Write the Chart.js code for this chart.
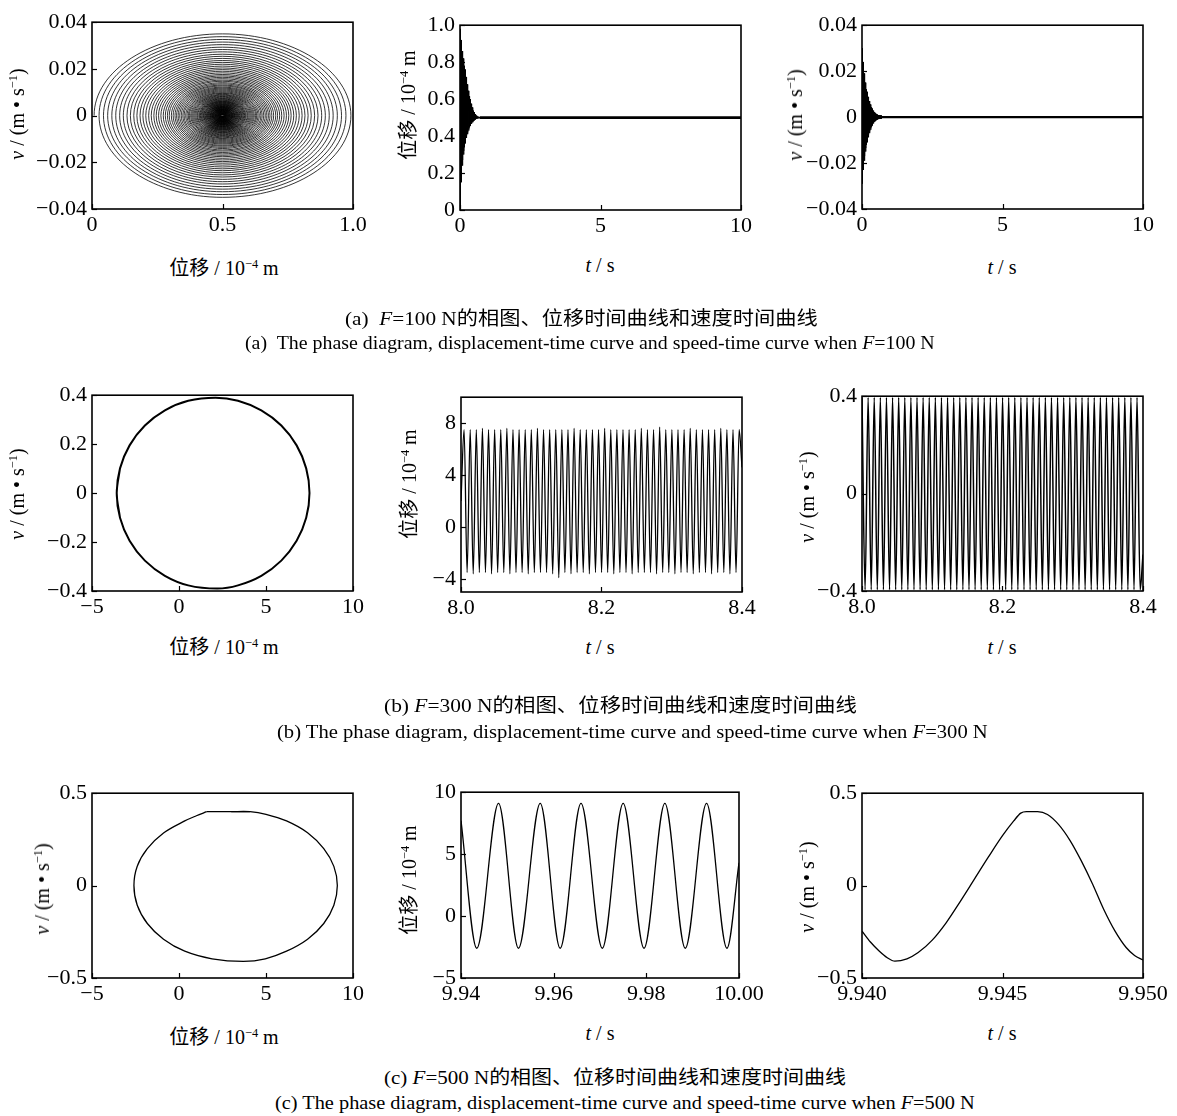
<!DOCTYPE html>
<html>
<head>
<meta charset="utf-8">
<script src="https://cdn.jsdelivr.net/npm/chart.js@4.4.0/dist/chart.umd.min.js"></script>
<style>
body{margin:0;background:#fff;width:1177px;height:1116px;position:relative;overflow:hidden;
  font-family:'Liberation Serif','Noto Sans CJK SC',serif;color:#000}
canvas{position:absolute}
.t{position:absolute;white-space:nowrap;font-size:20px;line-height:1;transform:translate(-50%,-50%);z-index:2}
.r{transform:translate(-50%,-50%) rotate(-90deg)}
.cap{position:absolute;white-space:nowrap;font-size:19px;line-height:1;transform-origin:0 50%;z-index:2}
sup{font-size:0.62em;vertical-align:0.55em;line-height:0}
</style>
</head>
<body>

<div class="t r" style="left:17px;top:114px"><i>v</i> / (m • s<sup>−1</sup>)</div>
<div class="t" style="left:224px;top:268px">位移 / 10<sup>−4</sup> m</div>
<div class="t r" style="left:408px;top:105px">位移 / 10<sup>−4</sup> m</div>
<div class="t" style="left:600px;top:265px"><i>t</i> / s</div>
<div class="t r" style="left:795px;top:115px"><i>v</i> / (m • s<sup>−1</sup>)</div>
<div class="t" style="left:1002px;top:267px"><i>t</i> / s</div>

<div class="t r" style="left:17px;top:494px"><i>v</i> / (m • s<sup>−1</sup>)</div>
<div class="t" style="left:224px;top:647px">位移 / 10<sup>−4</sup> m</div>
<div class="t r" style="left:409px;top:484px">位移 / 10<sup>−4</sup> m</div>
<div class="t" style="left:600px;top:647px"><i>t</i> / s</div>
<div class="t r" style="left:807px;top:497px"><i>v</i> / (m • s<sup>−1</sup>)</div>
<div class="t" style="left:1002px;top:647px"><i>t</i> / s</div>

<div class="t r" style="left:42px;top:889px"><i>v</i> / (m • s<sup>−1</sup>)</div>
<div class="t" style="left:224px;top:1037px">位移 / 10<sup>−4</sup> m</div>
<div class="t r" style="left:409px;top:880px">位移 / 10<sup>−4</sup> m</div>
<div class="t" style="left:600px;top:1033px"><i>t</i> / s</div>
<div class="t r" style="left:807px;top:887px"><i>v</i> / (m • s<sup>−1</sup>)</div>
<div class="t" style="left:1002px;top:1033px"><i>t</i> / s</div>

<div class="cap" data-w="473" style="left:345px;top:318px">(a)&nbsp; <i>F</i>=100 N的相图、位移时间曲线和速度时间曲线</div>
<div class="cap" data-w="690" style="left:245px;top:342px">(a)&nbsp; The phase diagram, displacement-time curve and speed-time curve when <i>F</i>=100 N</div>
<div class="cap" data-w="473" style="left:384px;top:705px">(b) <i>F</i>=300 N的相图、位移时间曲线和速度时间曲线</div>
<div class="cap" data-w="711" style="left:277px;top:731px">(b) The phase diagram, displacement-time curve and speed-time curve when <i>F</i>=300 N</div>
<div class="cap" data-w="462" style="left:384px;top:1077px">(c) <i>F</i>=500 N的相图、位移时间曲线和速度时间曲线</div>
<div class="cap" data-w="700" style="left:275px;top:1102px">(c) The phase diagram, displacement-time curve and speed-time curve when <i>F</i>=500 N</div>

<script>
// ---- (a) F=100 N ----
// phase spiral: x half-width and v half-height of each turn, centre at x=0.5
// (the first point only sets the direction at the start, its segment is not drawn)
var spiralStart = [0.5, -0.0355];
var spiralCx = 0.5;
var spiralAx = [0.492, 0.473, 0.456, 0.440, 0.424, 0.409, 0.394, 0.380, 0.366, 0.353,
  0.340, 0.328, 0.316, 0.305, 0.294, 0.283, 0.273, 0.263, 0.254, 0.245,
  0.236, 0.227, 0.219, 0.211, 0.204, 0.196, 0.189, 0.182, 0.176, 0.170,
  0.164, 0.158, 0.152, 0.147, 0.141, 0.136, 0.131, 0.127, 0.122, 0.118,
  0.114, 0.110, 0.106, 0.102, 0.098, 0.095, 0.091, 0.088, 0.085, 0.082,
  0.079, 0.076, 0.073, 0.071, 0.068, 0.066, 0.063, 0.061, 0.059, 0.057,
  0.055, 0.053, 0.051, 0.049, 0.047, 0.046, 0.044, 0.042, 0.041, 0.039,
  0.038, 0.037, 0.035, 0.034, 0.033, 0.032, 0.030, 0.029, 0.028, 0.027,
  0.026, 0.025, 0.024, 0.023, 0.022, 0.021, 0.020, 0.019, 0.018, 0.017,
  0.016, 0.015, 0.014, 0.013, 0.012, 0.011, 0.010, 0.009, 0.008, 0.007];
var spiralAv = [0.0350, 0.0338, 0.0326, 0.0315, 0.0304, 0.0293, 0.0283, 0.0273, 0.0263, 0.0254,
  0.0245, 0.0236, 0.0228, 0.0220, 0.0212, 0.0204, 0.0197, 0.0190, 0.0183, 0.0176,
  0.0170, 0.0164, 0.0158, 0.0152, 0.0147, 0.0141, 0.0136, 0.0131, 0.0127, 0.0122,
  0.0118, 0.0114, 0.0110, 0.0106, 0.0102, 0.0098, 0.0095, 0.0091, 0.0088, 0.0085,
  0.0082, 0.0079, 0.0076, 0.0073, 0.0071, 0.0068, 0.0066, 0.0063, 0.0061, 0.0059,
  0.0057, 0.0055, 0.0053, 0.0051, 0.0049, 0.0047, 0.0046, 0.0044, 0.0042, 0.0041,
  0.0039, 0.0038, 0.0037, 0.0035, 0.0034, 0.0033, 0.0032, 0.0030, 0.0029, 0.0028,
  0.0027, 0.0026, 0.0025, 0.0024, 0.0023, 0.0022, 0.0021, 0.0020, 0.0019, 0.0018,
  0.0017, 0.0016, 0.0015, 0.0014, 0.0013, 0.0012, 0.0011, 0.0010, 0.0009, 0.0008,
  0.0007, 0.0007, 0.0006, 0.0006, 0.0005, 0.0005, 0.0004, 0.0004, 0.0003, 0.0003];

// transient envelopes (upper / lower extremes) for the first 0.7 s
var envT = [0, 0.02, 0.04, 0.06, 0.08, 0.10, 0.12, 0.14, 0.16, 0.18,
  0.20, 0.22, 0.24, 0.26, 0.28, 0.30, 0.32, 0.34, 0.36, 0.38,
  0.40, 0.42, 0.44, 0.46, 0.48, 0.50, 0.52, 0.54, 0.56, 0.58,
  0.60, 0.62, 0.64, 0.66, 0.68, 0.70];
var dispHi = [0.98, 0.95, 0.92, 0.89, 0.86, 0.84, 0.82, 0.80, 0.78, 0.76,
  0.74, 0.72, 0.70, 0.68, 0.66, 0.645, 0.63, 0.615, 0.60, 0.59,
  0.575, 0.565, 0.555, 0.545, 0.537, 0.53, 0.524, 0.519, 0.515, 0.511,
  0.508, 0.506, 0.505, 0.504, 0.503, 0.503];
var dispLo = [0.00, 0.08, 0.15, 0.20, 0.24, 0.27, 0.30, 0.32, 0.34, 0.36,
  0.375, 0.39, 0.40, 0.41, 0.42, 0.43, 0.44, 0.448, 0.455, 0.46,
  0.466, 0.47, 0.474, 0.478, 0.481, 0.484, 0.487, 0.489, 0.491, 0.493,
  0.494, 0.495, 0.496, 0.497, 0.497, 0.497];
var velHi = [0.030, 0.027, 0.024, 0.021, 0.019, 0.017, 0.015, 0.0135, 0.012, 0.011,
  0.0098, 0.0088, 0.0078, 0.0070, 0.0062, 0.0055, 0.0048, 0.0042, 0.0037, 0.0032,
  0.0028, 0.0024, 0.0021, 0.0018, 0.0016, 0.0014, 0.0012, 0.0011, 0.0010, 0.0009,
  0.0008, 0.0008, 0.0007, 0.0007, 0.0007, 0.0007];
var velLo = [-0.029, -0.026, -0.023, -0.021, -0.019, -0.017, -0.015, -0.0135, -0.012, -0.011,
  -0.0098, -0.0088, -0.0078, -0.0070, -0.0062, -0.0055, -0.0048, -0.0042, -0.0037, -0.0032,
  -0.0028, -0.0024, -0.0021, -0.0018, -0.0016, -0.0014, -0.0012, -0.0011, -0.0010, -0.0009,
  -0.0008, -0.0008, -0.0007, -0.0007, -0.0007, -0.0007];
// steady part after the transient
var steadyT = [0.70, 10];
var dispSteady = [0.5, 0.5];
var velSteady = [0, 0];

// ---- (b) F=300 N ----
// closed orbit, read clockwise from the left (first and last points overlap)
var b1X = [-3.39, -3.58, -3.39, -2.84, -1.96, -0.81, 0.53, 2.10, 3.39, 4.73, 5.88, 6.76, 7.31, 7.50,
  7.31, 6.76, 5.88, 4.73, 3.39, 2.20, 0.53, -0.81, -1.96, -2.84, -3.39, -3.58, -3.39];
var b1V = [-0.101, 0, 0.101, 0.195, 0.276, 0.338, 0.377, 0.39, 0.377, 0.338, 0.276, 0.195, 0.101, 0,
  -0.101, -0.195, -0.276, -0.338, -0.377, -0.39, -0.377, -0.338, -0.276, -0.195, -0.101, 0, 0.101];
// extreme points of the 8.0-8.4 s window (half-period steps)
var bTimes = [8.0000, 8.0044, 8.0087, 8.0131, 8.0174, 8.0218, 8.0261, 8.0305, 8.0348, 8.0392,
  8.0435, 8.0479, 8.0522, 8.0566, 8.0609, 8.0653, 8.0696, 8.0740, 8.0783, 8.0827,
  8.0870, 8.0914, 8.0957, 8.1001, 8.1044, 8.1088, 8.1131, 8.1175, 8.1218, 8.1262,
  8.1305, 8.1349, 8.1392, 8.1436, 8.1479, 8.1523, 8.1566, 8.1610, 8.1653, 8.1697,
  8.1740, 8.1784, 8.1827, 8.1871, 8.1914, 8.1958, 8.2001, 8.2045, 8.2088, 8.2132,
  8.2175, 8.2219, 8.2262, 8.2306, 8.2349, 8.2393, 8.2436, 8.2480, 8.2523, 8.2567,
  8.2610, 8.2654, 8.2697, 8.2741, 8.2784, 8.2828, 8.2871, 8.2915, 8.2958, 8.3002,
  8.3045, 8.3089, 8.3132, 8.3176, 8.3219, 8.3263, 8.3306, 8.3350, 8.3393, 8.3437,
  8.3480, 8.3524, 8.3567, 8.3611, 8.3654, 8.3698, 8.3741, 8.3785, 8.3828, 8.3872,
  8.3915, 8.3959, 8.4000];
var b2Disp = [2.0, 7.5, -3.5, 7.5, -3.6, 7.5, -3.5, 7.6, -3.5, 7.5,
  -3.6, 7.5, -3.5, 7.5, -3.5, 7.6, -3.6, 7.5, -3.5, 7.5,
  -3.5, 7.5, -3.6, 7.5, -3.5, 7.6, -3.5, 7.5, -3.5, 7.5,
  -3.6, 7.5, -3.9, 7.5, -3.5, 7.5, -3.6, 7.6, -3.5, 7.5,
  -3.5, 7.5, -3.6, 7.5, -3.5, 7.5, -3.5, 7.6, -3.5, 7.5,
  -3.6, 7.5, -3.5, 7.5, -3.5, 7.5, -3.6, 7.5, -3.5, 7.6,
  -3.5, 7.5, -3.5, 7.5, -3.6, 7.7, -3.5, 7.5, -3.5, 7.5,
  -3.6, 7.5, -3.5, 7.5, -3.5, 7.6, -3.6, 7.5, -3.5, 7.5,
  -3.5, 7.5, -3.6, 7.5, -3.5, 7.6, -3.5, 7.5, -3.6, 7.5,
  -3.5, 7.5, 4.6];
var b3Vel = [0.395, -0.395, 0.395, -0.395, 0.395, -0.395, 0.395, -0.395, 0.395, -0.395,
  0.395, -0.395, 0.395, -0.395, 0.395, -0.395, 0.395, -0.395, 0.395, -0.395,
  0.395, -0.395, 0.395, -0.395, 0.395, -0.395, 0.395, -0.395, 0.395, -0.395,
  0.395, -0.395, 0.395, -0.395, 0.395, -0.395, 0.395, -0.395, 0.395, -0.395,
  0.395, -0.395, 0.395, -0.395, 0.395, -0.395, 0.395, -0.395, 0.395, -0.395,
  0.395, -0.395, 0.395, -0.395, 0.395, -0.395, 0.395, -0.395, 0.395, -0.395,
  0.395, -0.395, 0.395, -0.395, 0.395, -0.395, 0.395, -0.395, 0.395, -0.395,
  0.395, -0.395, 0.395, -0.395, 0.395, -0.395, 0.395, -0.395, 0.395, -0.395,
  0.395, -0.395, 0.395, -0.395, 0.395, -0.395, 0.395, -0.395, 0.395, -0.395,
  0.395, -0.395, -0.25];

// ---- (c) F=500 N ----
// orbit: curved part from the flat top round to the corner, plus the flat top
var c1X = [3.00, 4.08, 5.00, 6.18, 7.39, 8.32, 8.90, 9.10, 8.90, 8.32, 7.39, 6.18, 4.96, 3.70,
  1.90, 0.33, -0.89, -1.82, -2.40, -2.59, -2.40, -1.82, -0.89, 0.33, 1.00, 1.59];
var c1V = [0.40, 0.40, 0.386, 0.35, 0.286, 0.20, 0.104, 0, -0.106, -0.205, -0.29, -0.355, -0.396, -0.41,
  -0.396, -0.355, -0.29, -0.205, -0.106, 0, 0.105, 0.20, 0.285, 0.35, 0.378, 0.40];
var c1FlatX = [1.59, 4.08];
var c1FlatV = [0.40, 0.40];
var c2T = [9.9400, 9.9434, 9.9481, 9.9524, 9.9571, 9.9614, 9.9659, 9.9705,
  9.9750, 9.9795, 9.9840, 9.9884, 9.9930, 9.9974, 10.0000];
var c2Disp = [7.7, -2.6, 9.1, -2.6, 9.1, -2.6, 9.1, -2.6, 9.1, -2.6, 9.1, -2.6, 9.1, -2.6, 4.3];
var c3T = [9.94000, 9.94030, 9.94060, 9.94090, 9.94117, 9.94160, 9.94200, 9.94250, 9.94300,
  9.94350, 9.94400, 9.94450, 9.94500, 9.94540, 9.94565, 9.94585, 9.94625, 9.94660, 9.94700,
  9.94740, 9.94780, 9.94820, 9.94860, 9.94900, 9.94940, 9.94970, 9.95000];
var c3Vel = [-0.246, -0.305, -0.352, -0.390, -0.409, -0.396, -0.362, -0.295, -0.200,
  -0.085, 0.035, 0.155, 0.270, 0.350, 0.392, 0.400, 0.400, 0.385, 0.330,
  0.245, 0.135, 0.010, -0.128, -0.245, -0.335, -0.378, -0.402];

// ---- axis ticks ----
var ticksA1x = [0, 0.5, 1], labA1x = ['0', '0.5', '1.0'];
var ticksV04 = [-0.04, -0.02, 0, 0.02, 0.04], labV04 = ['−0.04', '−0.02', '0', '0.02', '0.04'];
var ticksT10 = [0, 5, 10], labT10 = ['0', '5', '10'];
var ticksA2y = [0, 0.2, 0.4, 0.6, 0.8, 1.0], labA2y = ['0', '0.2', '0.4', '0.6', '0.8', '1.0'];
var ticksX5 = [-5, 0, 5, 10], labX5 = ['−5', '0', '5', '10'];
var ticksB1y = [-0.4, -0.2, 0, 0.2, 0.4], labB1y = ['−0.4', '−0.2', '0', '0.2', '0.4'];
var ticksB2x = [8.0, 8.2, 8.4], labB2x = ['8.0', '8.2', '8.4'];
var ticksB2y = [-4, 0, 4, 8], labB2y = ['−4', '0', '4', '8'];
var ticksB3y = [-0.4, 0, 0.4], labB3y = ['−0.4', '0', '0.4'];
var ticksV05 = [-0.5, 0, 0.5], labV05 = ['−0.5', '0', '0.5'];
var ticksC2x = [9.94, 9.96, 9.98, 10.00], labC2x = ['9.94', '9.96', '9.98', '10.00'];
var ticksC2y = [-5, 0, 5, 10], labC2y = ['−5', '0', '5', '10'];
var ticksC3x = [9.940, 9.945, 9.950], labC3x = ['9.940', '9.945', '9.950'];

var FONT = "'Liberation Serif', 'Times New Roman', serif";
var PAD_L = 80, PAD_T = 14, PAD_R = 34, PAD_B = 34;

// box with inward tick marks
var framePlugin = {
  id: 'frame',
  afterDatasetsDraw: function (chart) {
    var a = chart.chartArea, ctx = chart.ctx;
    var sx = chart.scales.x, sy = chart.scales.y;
    ctx.save();
    ctx.strokeStyle = '#000';
    ctx.lineWidth = 1.2;
    sx.ticks.forEach(function (t) {
      var p = Math.round(sx.getPixelForValue(t.value)) + 0.5;
      ctx.beginPath(); ctx.moveTo(p, a.bottom); ctx.lineTo(p, a.bottom - 5); ctx.stroke();
    });
    sy.ticks.forEach(function (t) {
      var p = Math.round(sy.getPixelForValue(t.value)) + 0.5;
      ctx.beginPath(); ctx.moveTo(a.left, p); ctx.lineTo(a.left + 5, p); ctx.stroke();
    });
    ctx.lineWidth = 1.6;
    ctx.strokeRect(a.left, a.top, a.right - a.left, a.bottom - a.top);
    ctx.restore();
  }
};

function axis(min, max, ticks, labels, isX) {
  return {
    type: 'linear', min: min, max: max,
    afterBuildTicks: function (sc) { sc.ticks = ticks.map(function (v) { return { value: v }; }); },
    afterFit: function (sc) { if (isX) sc.height = PAD_B; else sc.width = PAD_L; },
    grid: { display: false, drawTicks: false, tickLength: 0 }, border: { display: false },
    ticks: {
      color: '#000', font: { family: FONT, size: 22 }, padding: isX ? 3 : 5,
      maxRotation: 0, autoSkip: false,
      callback: function (v, i) { return labels[i]; }
    }
  };
}

function pts(xs, ys) {
  var out = [];
  for (var i = 0; i < Math.min(xs.length, ys.length); i++) out.push({ x: xs[i], y: ys[i] });
  return out;
}

function line(data, width, extra) {
  var d = { data: data, showLine: true, borderColor: '#000', borderWidth: width, pointRadius: 0, fill: false };
  for (var k in extra) d[k] = extra[k];
  return d;
}

function panel(box, xAxis, yAxis, datasets) {
  var c = document.createElement('canvas');
  var w = box.r - box.l + PAD_L + PAD_R, h = box.b - box.t + PAD_T + PAD_B;
  c.width = w; c.height = h;
  c.style.left = (box.l - PAD_L) + 'px'; c.style.top = (box.t - PAD_T) + 'px';
  c.style.width = w + 'px'; c.style.height = h + 'px';
  document.body.appendChild(c);
  new Chart(c, {
    type: 'scatter',
    data: { datasets: datasets },
    options: {
      responsive: false, animation: false, events: [],
      layout: { padding: { left: 0, top: PAD_T, right: PAD_R, bottom: 0 } },
      plugins: { legend: { display: false }, tooltip: { enabled: false } },
      scales: { x: xAxis, y: yAxis }
    },
    plugins: [framePlugin]
  });
}

// build point lists from the arrays
var spiralPts = [{ x: spiralStart[0], y: spiralStart[1] }];
for (var k = 0; k < Math.min(spiralAx.length, spiralAv.length); k++) {
  spiralPts.push({ x: spiralCx - spiralAx[k], y: 0 });
  spiralPts.push({ x: spiralCx, y: spiralAv[k] });
  spiralPts.push({ x: spiralCx + spiralAx[k], y: 0 });
  spiralPts.push({ x: spiralCx, y: -spiralAv[k] });
}
var dispTrans = [], velTrans = [];
for (var i = 0; i < envT.length; i++) {
  dispTrans.push({ x: envT[i], y: dispHi[i] }, { x: envT[i], y: dispLo[i] });
  velTrans.push({ x: envT[i], y: velHi[i] }, { x: envT[i], y: velLo[i] });
}
// hide the lead-in segment of the spiral
var hideFirst = { borderColor: function (ctx) { return ctx.p0DataIndex === 0 ? 'rgba(0,0,0,0)' : '#000'; } };

panel({ l: 92, r: 353, t: 18, b: 209 },
  axis(0, 1, ticksA1x, labA1x, true), axis(-0.04, 0.04, ticksV04, labV04, false),
  [line(spiralPts, 0.8, { tension: 0.55, segment: hideFirst })]);
panel({ l: 460, r: 741, t: 21, b: 210 },
  axis(0, 10, ticksT10, labT10, true), axis(0, 1, ticksA2y, labA2y, false),
  [line(dispTrans, 1, {}), line(pts(steadyT, dispSteady), 2.6, {})]);
panel({ l: 862, r: 1143, t: 21, b: 209 },
  axis(0, 10, ticksT10, labT10, true), axis(-0.04, 0.04, ticksV04, labV04, false),
  [line(velTrans, 1, {}), line(pts(steadyT, velSteady), 2.3, {})]);

panel({ l: 92, r: 353, t: 391, b: 591 },
  axis(-5, 10, ticksX5, labX5, true), axis(-0.4, 0.4, ticksB1y, labB1y, false),
  [line(pts(b1X, b1V), 2, { tension: 0.34 })]);
panel({ l: 461, r: 742, t: 393, b: 592 },
  axis(8.0, 8.4, ticksB2x, labB2x, true), axis(-5, 10, ticksB2y, labB2y, false),
  [line(pts(bTimes, b2Disp), 1.3, { cubicInterpolationMode: 'monotone' })]);
panel({ l: 862, r: 1143, t: 392, b: 591 },
  axis(8.0, 8.4, ticksB2x, labB2x, true), axis(-0.4, 0.4, ticksB3y, labB3y, false),
  [line(pts(bTimes, b3Vel), 1.5, { cubicInterpolationMode: 'monotone' })]);

panel({ l: 92, r: 353, t: 789, b: 978 },
  axis(-5, 10, ticksX5, labX5, true), axis(-0.5, 0.5, ticksV05, labV05, false),
  [line(pts(c1X, c1V), 1.3, { tension: 0.34 }), line(pts(c1FlatX, c1FlatV), 1.3, {})]);
panel({ l: 461, r: 739, t: 788, b: 978 },
  axis(9.94, 10.0, ticksC2x, labC2x, true), axis(-5, 10, ticksC2y, labC2y, false),
  [line(pts(c2T, c2Disp), 1.3, { cubicInterpolationMode: 'monotone' })]);
panel({ l: 862, r: 1143, t: 789, b: 978 },
  axis(9.94, 9.95, ticksC3x, labC3x, true), axis(-0.5, 0.5, ticksV05, labV05, false),
  [line(pts(c3T, c3Vel), 1.3, { cubicInterpolationMode: 'monotone' })]);

// stretch captions to the widths they have in the figure
document.querySelectorAll('.cap').forEach(function (el) {
  var w = el.getBoundingClientRect().width;
  var k = parseFloat(el.getAttribute('data-w')) / w;
  el.style.transform = 'translateY(-50%) scaleX(' + k.toFixed(3) + ')';
});
</script>
</body>
</html>
